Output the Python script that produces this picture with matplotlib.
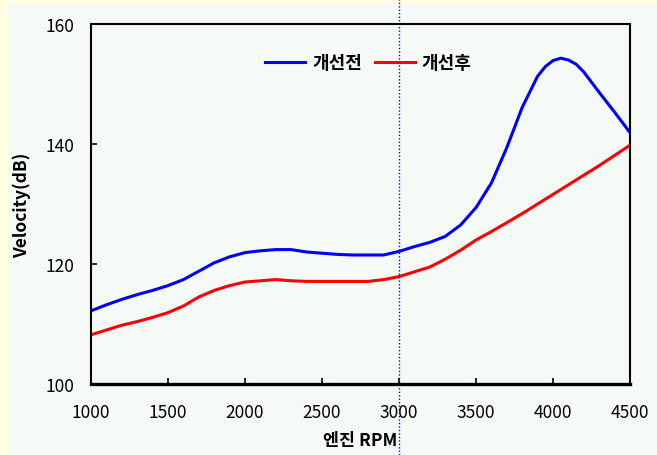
import matplotlib
matplotlib.use("Agg")
import matplotlib.pyplot as plt
from matplotlib.patches import Rectangle

plt.rcParams['font.family'] = ['Noto Sans CJK KR', 'DejaVu Sans']

# 엔진 회전수별 측정값
rpm = [1000, 1100, 1200, 1300, 1400, 1500, 1600, 1700, 1800, 1900,
       2000, 2100, 2200, 2300, 2400, 2500, 2600, 2700, 2800, 2900,
       3000, 3100, 3200, 3300, 3400, 3500, 3600, 3700, 3800, 3900,
       3950, 4000, 4050, 4100, 4150, 4200, 4300, 4400, 4500]
before = [112.2, 113.2, 114.1, 114.9, 115.6, 116.4, 117.4, 118.8, 120.2, 121.2,
          121.9, 122.2, 122.4, 122.4, 122.0, 121.8, 121.6, 121.5, 121.5, 121.5,
          122.1, 122.9, 123.6, 124.6, 126.5, 129.4, 133.5, 139.4, 146.1, 151.3,
          152.9, 153.9, 154.3, 154.0, 153.3, 152.0, 148.6, 145.3, 141.9]
after = [108.2, 109.0, 109.8, 110.4, 111.1, 111.9, 113.0, 114.5, 115.6, 116.4,
         117.0, 117.2, 117.4, 117.2, 117.1, 117.1, 117.1, 117.1, 117.1, 117.4,
         117.9, 118.7, 119.5, 120.8, 122.3, 124.0, 125.4, 126.9, 128.4, 130.0,
         130.8, 131.6, 132.4, 133.2, 134.0, 134.8, 136.4, 138.1, 139.8]
labels = ['개선전', '개선후']

fig = plt.figure(figsize=(6.57, 4.56), dpi=100, facecolor='#FFFFE0')
# 안쪽 배경 (왼쪽/위쪽에 노란 테두리만 남김)
bg = Rectangle((8 / 657, 0), 1, 1 - 4 / 456, transform=fig.transFigure,
               facecolor='#F5FAF7', edgecolor='none', zorder=-10)
fig.patches.append(bg)
ax = fig.add_axes([91 / 657, 1 - 385 / 456, 539 / 657, 360 / 456])
ax.set_facecolor('#F5FAF7')

ax.plot(rpm, before, color='#0000FF', lw=2.2, label=labels[0])
ax.plot(rpm, after, color='#FF0000', lw=2.2, label=labels[1])
ax.axvline(3000, ymin=-71 / 360, ymax=1 + 25 / 360, color='#0000FF',
           ls=(0, (1, 1.5)), lw=1, clip_on=False)

ax.set_xlim(1000, 4500)
ax.set_ylim(100, 160)
ax.set_xticks(range(1000, 4501, 500))
ax.set_yticks(range(100, 161, 20))
ax.tick_params(direction='in', length=4, width=1.2, labelsize=12.5)
ax.tick_params(axis='x', pad=14)
ax.tick_params(axis='y', pad=12)
for s in ax.spines.values():
    s.set_linewidth(1.5)
ax.spines['bottom'].set_linewidth(2.4)

ax.set_xlabel('엔진 RPM', fontsize=12.5, fontweight='bold', labelpad=7)
ax.set_ylabel('Velocity(dB)', fontsize=12.5, fontweight='bold', labelpad=10)

ax.legend(loc='upper center', bbox_to_anchor=(0.515, 0.965), ncol=2, frameon=False,
          handlelength=2.2, handletextpad=0.4, columnspacing=0.7,
          prop={'weight': 'bold', 'size': 13})

fig.savefig('out.png', dpi=100, facecolor=fig.get_facecolor())
